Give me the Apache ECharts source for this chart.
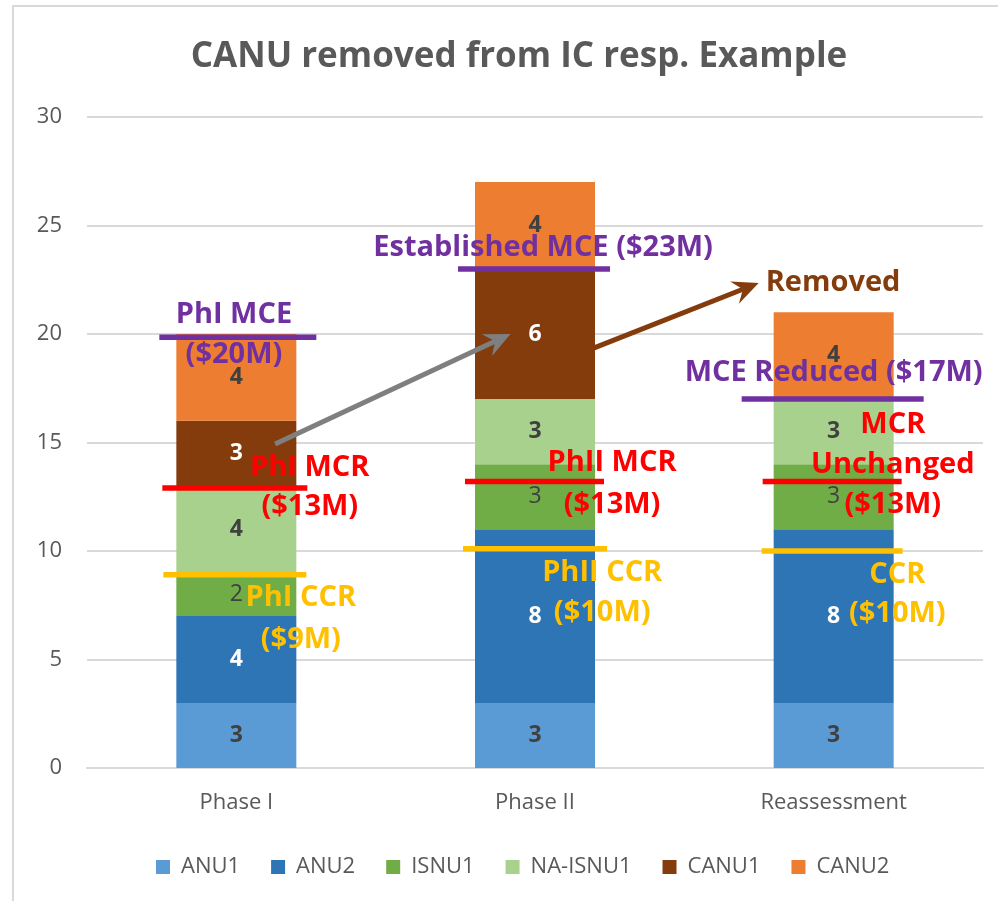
<!DOCTYPE html>
<html><head><meta charset="utf-8">
<script src="https://cdn.jsdelivr.net/npm/echarts@6/dist/echarts.min.js"></script>
<style>html,body{margin:0;padding:0;background:#fff}#c{width:998px;height:901px}</style>
</head><body><div id="c"></div>
<script>
// ---- data ----
const categories = ['Phase I', 'Phase II', 'Reassessment'];
const seriesNames = ['ANU1', 'ANU2', 'ISNU1', 'NA-ISNU1', 'CANU1', 'CANU2'];
const ANU1 = [3, 3, 3];
const ANU2 = [4, 8, 8];
const ISNU1 = [2, 3, 3];
const NA_ISNU1 = [4, 3, 3];
const CANU1 = [3, 6, 0];
const CANU2 = [4, 4, 4];
const yTicks = [0, 5, 10, 15, 20, 25, 30];
const MCE = [19.85, 23, 17];
const MCR = [12.9, 13.2, 13.2];
const CCR = [8.9, 10.1, 10];
const annotationTexts = [
  'PhI MCE\n($20M)', 'PhI MCR\n($13M)', 'PhI CCR\n($9M)',
  'Established MCE ($23M)', 'PhII MCR\n($13M)', 'PhII CCR\n($10M)',
  'Removed', 'MCE Reduced ($17M)', 'MCR\nUnchanged\n($13M)', 'CCR\n($10M)'
];
// anchor of each annotation: [category index, value]
const annotationCat = [0, 0, 0, 1, 1, 1, 2, 2, 2, 2];
const annotationVal = [19.95, 12.93, 6.87, 23.96, 13.09, 8.06, 22.35, 18.2, 13.96, 8.02];
// arrows: [fromCat, fromVal, toCat, toVal]
const arrowData = [[0, 14.93, 1, 20.0], [1, 19.35, 2, 22.35]];

// ---- layout / style ----
const FONT = '"Open Sans", "DejaVu Sans", sans-serif';
const PURPLE = '#7030A0', RED = '#FF0000', YELLOW = '#FFC000', BROWN = '#843C0C', GREY = '#7F7F7F';
const colors = ['#5B9BD5', '#2E75B6', '#70AD47', '#A9D18E', '#843C0C', '#ED7D31'];
const annotationColor = [PURPLE, RED, YELLOW, PURPLE, RED, YELLOW, BROWN, PURPLE, RED, YELLOW];
const annotationDx = [-0.008, 0.246, 0.216, 0.027, 0.258, 0.225, -0.002, 0.0, 0.198, 0.213]; // fraction of band
const annotationLH = [40, 39, 42, 40, 42, 40, 40, 40, 40, 39];
const arrowDx = [[0.13, -0.082], [0.196, -0.251]];
const arrowColor = [GREY, BROWN];
const lineExt = {
  MCE: [[77, 80], [77, 75], [92, 90]],
  MCR: [[74, 71], [70, 69], [71, 68]],
  CCR: [[73, 70], [72, 72], [72, 69]]
};

const labelBoldDark = { show: true, position: 'inside', color: '#404040', fontWeight: 'bold', fontSize: 23, fontFamily: FONT,
  formatter: p => p.value ? p.value : '' };
const labelBoldWhite = Object.assign({}, labelBoldDark, { color: '#FFFFFF' });
const labelNormalDark = Object.assign({}, labelBoldDark, { fontWeight: 'normal' });
const seriesData = [ANU1, ANU2, ISNU1, NA_ISNU1, CANU1, CANU2];
const seriesLabels = [labelBoldDark, labelBoldWhite, labelNormalDark, labelBoldDark, labelBoldWhite, labelBoldDark];

const barSeries = seriesNames.map((n, k) => ({
  name: n, type: 'bar', stack: 'total', barWidth: 120,
  itemStyle: { color: colors[k] },
  label: seriesLabels[k],
  data: seriesData[k]
}));

function refLine(name, vals, color) {
  return {
    type: 'custom', name: name, z: 5,
    data: vals.map((v, i) => [i, v]),
    renderItem: function (params, api) {
      const i = api.value(0);
      const p = api.coord([i, api.value(1)]);
      const e = lineExt[name][i];
      return { type: 'line', shape: { x1: p[0] - e[0], y1: p[1], x2: p[0] + e[1], y2: p[1] },
        style: { stroke: color, lineWidth: 5.5 } };
    }
  };
}

const annotationSeries = {
  type: 'custom', name: 'annotations', z: 10,
  data: annotationVal.map((v, i) => [annotationCat[i], v]),
  renderItem: function (params, api) {
    const i = params.dataIndex;
    const p = api.coord([api.value(0), api.value(1)]);
    const bw = api.size([1, 0])[0];
    return { type: 'text', x: p[0] + annotationDx[i] * bw, y: p[1],
      style: { text: annotationTexts[i], fill: annotationColor[i], fontSize: 29, fontWeight: 'bold',
        fontFamily: FONT, align: 'center', verticalAlign: 'middle', lineHeight: annotationLH[i] } };
  }
};

const arrowSeries = {
  type: 'custom', name: 'arrows', z: 8,
  data: arrowData,
  renderItem: function (params, api) {
    const i = params.dataIndex;
    const bw = api.size([1, 0])[0];
    const a = api.coord([api.value(0), api.value(1)]);
    const b = api.coord([api.value(2), api.value(3)]);
    const x0 = a[0] + arrowDx[i][0] * bw, y0 = a[1];
    const x1 = b[0] + arrowDx[i][1] * bw, y1 = b[1];
    const dx = x1 - x0, dy = y1 - y0, len = Math.sqrt(dx * dx + dy * dy);
    const ux = dx / len, uy = dy / len, nx = -uy, ny = ux;
    const L = 26, W = 12, N = 9;
    const bx = x1 - ux * (L - N), by = y1 - uy * (L - N);
    const col = arrowColor[i];
    return { type: 'group', children: [
      { type: 'line', shape: { x1: x0, y1: y0, x2: bx, y2: by }, style: { stroke: col, lineWidth: 5 } },
      { type: 'polygon', shape: { points: [[x1, y1], [x1 - ux * L + nx * W, y1 - uy * L + ny * W], [bx, by], [x1 - ux * L - nx * W, y1 - uy * L - ny * W]] },
        style: { fill: col } }
    ] };
  }
};

const chart = echarts.init(document.getElementById('c'), null, { renderer: 'canvas' });
chart.setOption({
  backgroundColor: '#FFFFFF',
  animation: false,
  color: colors,
  title: { text: 'CANU removed from IC resp. Example', left: 514, top: 35, textAlign: 'center',
    textStyle: { color: '#595959', fontSize: 35, fontWeight: 'bold', fontFamily: FONT } },
  graphic: [{ type: 'rect', silent: true, z: -10, shape: { x: 13, y: 6, width: 1200, height: 1200 },
    style: { fill: 'none', stroke: '#D9D9D9', lineWidth: 2 } }],
  grid: { left: 87, right: 15, top: 117, bottom: 133, containLabel: false },
  legend: { data: seriesNames, left: 151, top: 851, icon: 'rect', itemWidth: 14, itemHeight: 14, itemGap: 31,
    textStyle: { color: '#595959', fontSize: 22, fontFamily: FONT, padding: [0, 0, 0, 6] } },
  xAxis: { type: 'category', data: categories,
    axisLine: { lineStyle: { color: '#D9D9D9', width: 2 } }, axisTick: { show: false },
    axisLabel: { color: '#595959', fontSize: 22, fontFamily: FONT, margin: 24 } },
  yAxis: { type: 'value', min: yTicks[0], max: yTicks[yTicks.length - 1], interval: yTicks[1] - yTicks[0],
    axisLine: { show: false }, axisTick: { show: false },
    splitLine: { lineStyle: { color: '#D9D9D9', width: 2 } },
    axisLabel: { color: '#595959', fontSize: 22, fontFamily: FONT, margin: 25 } },
  series: barSeries.concat([
    refLine('CCR', CCR, YELLOW), refLine('MCR', MCR, RED), refLine('MCE', MCE, PURPLE),
    arrowSeries, annotationSeries
  ])
});
</script></body></html>
